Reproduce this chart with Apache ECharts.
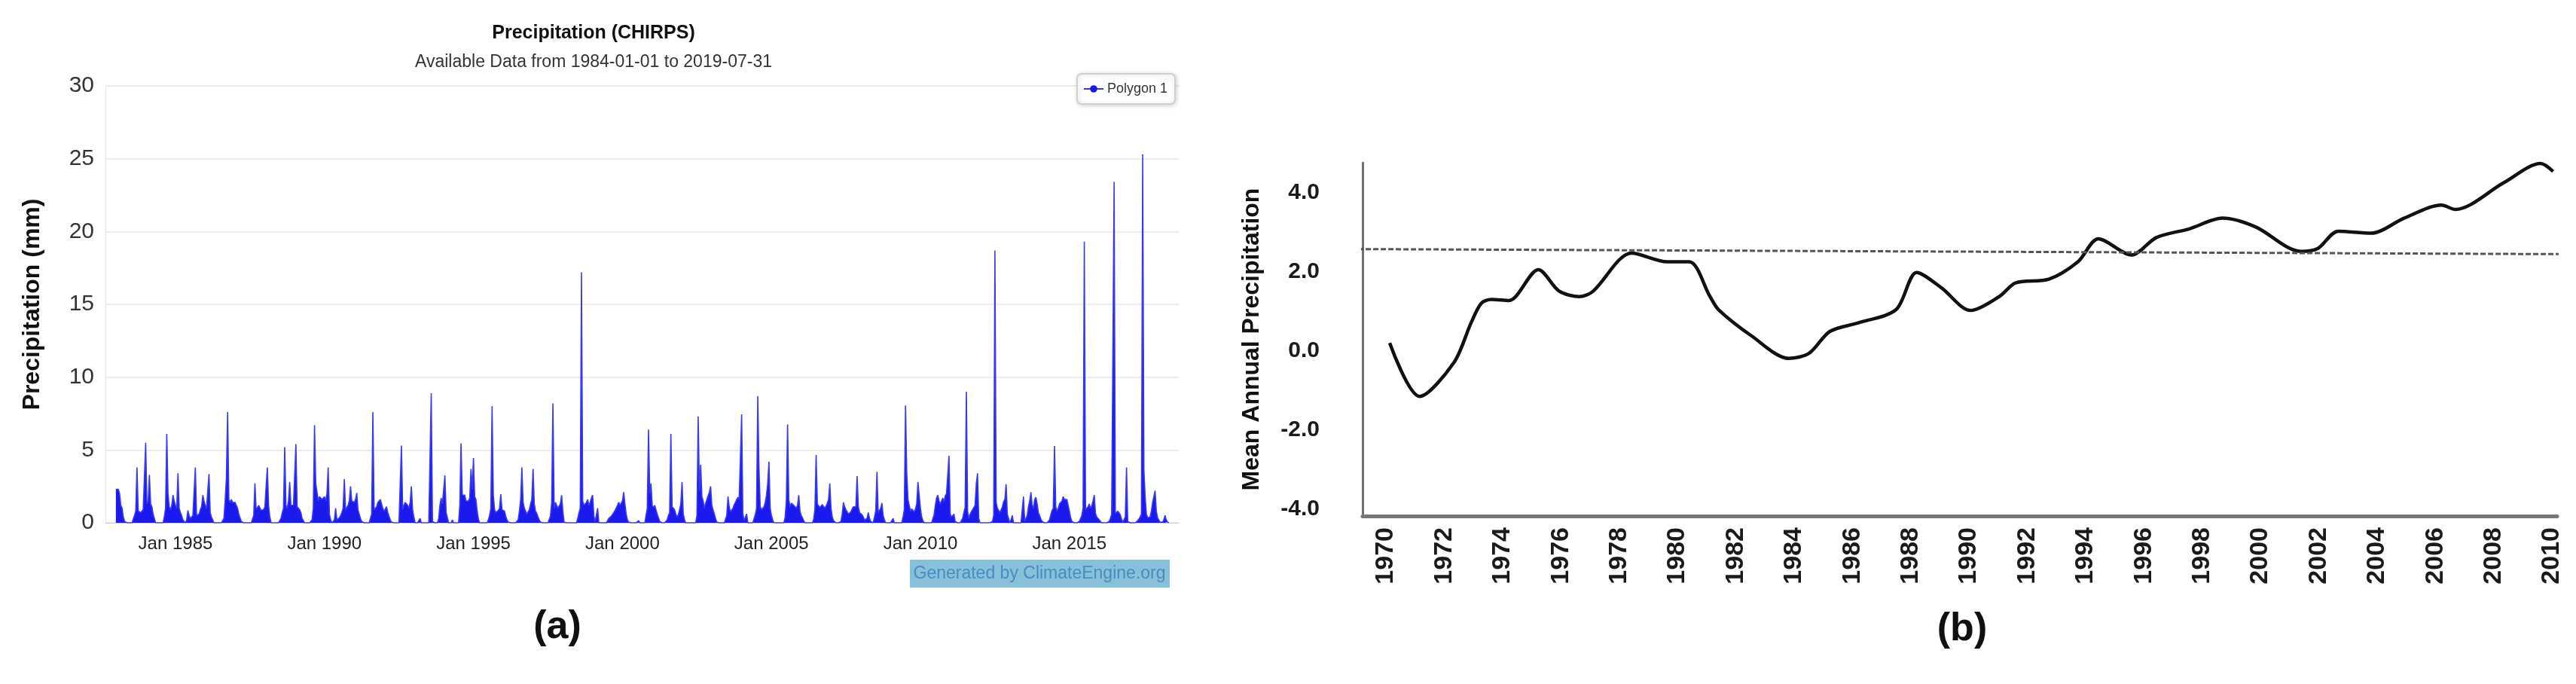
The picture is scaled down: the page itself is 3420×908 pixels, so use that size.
<!DOCTYPE html>
<html>
<head>
<meta charset="utf-8">
<title>Precipitation</title>
<style>
  html, body { margin: 0; padding: 0; background: #fff; }
  #main { width: 3420px; height: 908px; }
</style>
</head>
<body>
<div id="main"></div>
<script src="https://cdn.jsdelivr.net/npm/echarts@6/dist/echarts.min.js"></script>
<script>
// (a) CHIRPS precipitation (mm), two readings per month, one row per year
var firstYear = 1983;
var precip1980s = [
  [2.3,2.2,2.3,2.0,1.2,1.0,0.4,0.1,0,0,0,0,0,0,0,0.5,0.8,3.8,0.8,0.7,0.7,0.8,0.9,1.0],
  [5.5,1.3,1.5,3.3,1.3,1.1,0.6,0.3,0,0,0,0,0,0,0,0.4,1.0,6.1,2.0,1.1,0.9,1.2,1.9,1.5],
  [1.2,1.0,3.4,1.0,0.7,0.5,0.2,0.1,0,0.2,0.85,0.5,0.3,0.4,0.5,0.6,3.8,0.5,0.6,0.6,0.9,1.1,1.9,1.5],
  [1.2,1.0,1.0,3.35,0.7,0.4,0.2,0,0,0,0,0,0,0,0,0.3,1.5,3.1,7.6,1.6,1.4,1.6,1.4,1.5],
  [1.4,1.2,1.0,0.6,0.35,0.1,0,0,0,0,0,0,0,0,0,0.5,2.7,0.9,1.0,1.2,1.1,0.85,0.75,0.9],
  [1.1,2.5,3.8,1.2,0.4,0,0,0,0,0,0,0,0,0.3,0.7,1.0,5.2,1.2,1.0,1.5,2.8,1.2,1.1,1.2],
  [1.2,5.4,1.1,1.0,0.9,0.7,0.3,0.15,0,0,0,0,0,0,0.2,1.0,6.7,2.7,2.6,1.5,1.8,1.9,1.6,1.7]
];
var precip1990s = [
  [1.8,1.5,2.0,3.8,0.6,0.2,0,0,0.2,1.0,0.2,0.25,0.35,0.5,0.7,1.0,3.0,0.9,1.0,1.2,1.5,2.5,1.5,1.6],
  [1.4,1.6,2.05,0.9,0.6,0.3,0.1,0,0,0,0,0,0,0,0.6,7.6,0.9,1.0,1.1,1.4,1.5,1.6,1.3,1.0],
  [0.8,0.9,1.1,0.7,0.45,0.2,0.05,0,0,0,0,0,0,0.1,5.3,0.9,1.2,1.4,1.3,1.2,1.0,1.4,2.5,0.9],
  [0.4,0,0,0,0,0.3,0,0,0,0,0,0,0,0,8.9,0.1,0,0,0,0,0.3,1.2,1.7,1.3],
  [1.4,3.25,0.7,0.35,0,0,0,0.2,0,0,0,0,0,1.2,5.45,1.9,1.8,1.9,1.5,1.45,1.5,1.7,3.7,2.3],
  [4.45,1.8,1.6,0.8,0.25,0,0,0,0,0,0,0,0.2,0.5,1.0,8.0,1.9,0.9,0.7,0.7,0.85,1.0,1.96,0.9],
  [0.95,0.8,0.45,0.2,0.05,0,0,0,0,0,0,0,0.2,0.8,1.6,3.8,1.4,1.0,0.8,0.6,0.5,0.9,1.3,1.6],
  [3.7,1.3,0.8,0.65,0.4,0.2,0.05,0,0,0,0,0,0,0,0.45,1.4,8.2,1.0,1.4,1.3,1.0,1.1,1.3,1.9],
  [0.8,0.05,0,0,0,0,0,0,0,0,0,0,0.3,0.7,1.0,17.2,1.5,1.2,1.1,1.4,1.6,1.2,1.4,1.7],
  [1.9,0.45,0.1,0,1.0,0,0,0,0,0,0,0,0.15,0.3,0.4,0.45,0.5,0.7,0.85,0.95,1.2,1.4,1.2,1.3]
];
var precip2000s = [
  [1.5,2.1,1.3,0.6,0.2,0.05,0,0,0,0,0,0,0,0.15,0,0,0,0,0,0.5,1.0,6.4,2.0,2.7],
  [1.2,1.05,1.2,0.9,0.6,0.35,0.1,0,0,0,0,0,0.2,0.5,0.7,6.1,1.1,1.2,0.9,0.6,0.4,0.55,0.9,1.3],
  [2.8,0.6,0.2,0,0,0,0,0,0,0,0,0,0.5,7.3,2.2,4.0,1.8,1.5,1.0,1.35,1.6,1.85,2.1,2.5],
  [1.2,0.9,0.6,0.3,0.05,0,0,0,0,0,0,0,0.5,1.8,1.1,0.75,0.8,1.0,1.25,1.4,1.6,1.75,1.6,1.5],
  [7.45,0.6,0.15,0.1,0.6,0,0,0,0,0,0.3,0.55,1.0,8.7,3.6,1.1,0.9,1.0,1.1,1.4,1.9,2.7,4.2,1.0],
  [0.5,0.2,0,0,0,0,0,0,0,0,0,0.35,1.5,6.75,1.6,1.1,1.35,1.3,1.2,1.25,1.0,1.2,1.9,0.8],
  [0.5,0.35,0.15,0,0,0,0,0,0,0,0.25,0.9,4.65,1.3,1.2,1.05,1.1,1.25,1.3,1.0,1.15,1.35,1.6,2.7],
  [1.0,0.4,0.15,0.05,0,0,0,0,0.1,0.6,1.4,1.1,0.9,0.75,0.6,0.5,0.75,0.95,1.1,1.2,1.1,3.2,1.1,0.7],
  [0.8,0.55,0.4,0.2,0.15,0.3,0.7,0.3,0.1,0,0,0,0.8,3.5,0.7,0.7,1.0,1.35,0.5,0.2,0,0,0,0],
  [0,0,0.3,0,0,0,0,0,0,0,0.4,0.9,8.05,3.4,1.6,1.2,0.8,0.95,0.85,0.75,0.95,1.3,2.8,2.7]
];
var precip2010s = [
  [1.0,0.4,0.15,0,0,0,0,0,0,0,0,0.55,1.2,1.7,1.9,1.5,1.3,1.5,1.7,1.45,1.85,2.0,2.0,4.6],
  [0.6,0.4,0.4,0.6,0.1,0,0,0,0,0,0.3,0.7,1.05,9.0,0.8,0.3,0.6,0.75,0.9,1.0,1.2,2.7,3.4,0.3],
  [0,0,0,0,0,0,0,0,0,0,0.1,0.5,18.7,1.4,1.0,0.9,0.7,0.8,1.1,1.45,1.6,2.65,0.6,0.3],
  [0,0.2,0.5,0,0,0,0,0,0,0,0,1.8,0.1,0,0.5,1.1,1.5,2.1,1.2,1.0,1.6,1.75,1.3,0.7],
  [0.5,0.25,0.1,0,0,0,0,0,0.2,0.55,0.85,1.0,5.27,1.1,0.8,1.0,1.3,1.3,1.5,1.8,1.6,1.5,1.6,1.2],
  [0.8,0.35,0.1,0,0,0,0,0,0.1,0.3,0.5,1.0,19.3,0.9,0.85,1.1,1.3,1.0,1.15,1.5,1.9,0.65,0.4,0.3],
  [0.2,0.1,0,0,0,0,0,0,0.1,0.3,0.6,0.5,23.4,0.65,0.7,0.8,0.8,0.55,0.25,0.05,0,0.4,3.8,0.1],
  [0,0,0,0,0,0,0,0.15,0.25,0.4,0.6,25.3,3.6,1.8,0.6,0.35,0.25,0.4,0.8,1.4,1.8,2.2,0.8,0.35],
  [0.2,0.05,0,0.05,0.2,0.5,0.2,0.05,0]
];
var precipTicks = [1985, 1990, 1995, 2000, 2005, 2010, 2015];

// (b) mean annual precipitation
var trendYears = [1970.13, 1971.16, 1972.33, 1972.93, 1973.27, 1973.62, 1974.22, 1975.23, 1975.94, 1976.64,
  1977.10, 1978.43, 1979.65, 1980.41, 1981.12, 1981.41, 1982.54, 1983.82, 1984.52, 1985.23,
  1986.22, 1987.50, 1988.21, 1989.06, 1990.05, 1991.04, 1991.61, 1992.74, 1993.74, 1994.44,
  1995.58, 1996.43, 1997.56, 1998.70, 1999.83, 2001.39, 2001.96, 2002.67, 2003.80, 2004.93,
  2006.21, 2006.69, 2008.34, 2009.61, 2010.04];
var trendValues = [0.20, -1.15, -0.30, 0.72, 1.20, 1.30, 1.27, 2.05, 1.51, 1.37,
  1.50, 2.47, 2.25, 2.25, 1.37, 1.04, 0.38, -0.19, -0.06, 0.49,
  0.71, 1.04, 1.98, 1.59, 1.02, 1.37, 1.72, 1.81, 2.25, 2.83,
  2.42, 2.86, 3.08, 3.35, 3.13, 2.51, 2.58, 3.02, 2.97, 3.35,
  3.68, 3.57, 4.24, 4.73, 4.53];
var meanYears = [1968.79, 2010.83];
var meanValues = [2.57, 2.44];
var trendTicks = [1970, 1972, 1974, 1976, 1978, 1980, 1982, 1984, 1986, 1988, 1990,
  1992, 1994, 1996, 1998, 2000, 2002, 2004, 2006, 2008, 2010];
var trendValueTicks = [-4, -2, 0, 2, 4];

var FONT = '"Liberation Sans", Arial, sans-serif';

var precipRows = precip1980s.concat(precip1990s, precip2000s, precip2010s);
var precipData = [];
precipRows.forEach(function (row, r) {
  row.forEach(function (v, i) {
    precipData.push([firstYear + r + i / 24, v]);
  });
});
var trendData = trendYears.map(function (y, i) { return [y, trendValues[i]]; });
var meanData = meanYears.map(function (y, i) { return [y, meanValues[i]]; });

var myChart = echarts.init(document.getElementById('main'));
var option = {
  animation: false,
  textStyle: { fontFamily: FONT },
  title: [{
    text: 'Precipitation (CHIRPS)',
    subtext: 'Available Data from 1984-01-01 to 2019-07-31',
    left: 783, top: 27, textAlign: 'center', itemGap: 14,
    textStyle: { fontSize: 25, fontWeight: 'bold', color: '#111' },
    subtextStyle: { fontSize: 23, color: '#333' }
  }, {
    text: '(a)', left: 735, top: 802, textAlign: 'center',
    textStyle: { fontSize: 52, fontWeight: 'bold', color: '#111' }
  }, {
    text: '(b)', left: 2600, top: 805, textAlign: 'center',
    textStyle: { fontSize: 52, fontWeight: 'bold', color: '#111' }
  }],
  legend: {
    data: ['Polygon 1'], left: 1430, top: 98,
    itemWidth: 26, itemHeight: 12, padding: [11, 10, 11, 8],
    borderColor: '#d0d0d0', borderWidth: 2, borderRadius: 6,
    backgroundColor: '#fff', shadowBlur: 6, shadowColor: 'rgba(0,0,0,0.18)',
    shadowOffsetX: 1, shadowOffsetY: 1, selectedMode: false,
    textStyle: { fontSize: 18, color: '#333' }
  },
  grid: [
    { left: 140, top: 114, width: 1425, height: 580 },
    { left: 1809, top: 216, width: 1586, height: 469 }
  ],
  xAxis: [{
    gridIndex: 0, type: 'value', min: 1982.65, max: 2018.67,
    axisLine: { onZero: false, lineStyle: { color: '#c0d0e0' } },
    axisTick: { show: false }, splitLine: { show: false },
    axisLabel: {
      customValues: precipTicks, fontSize: 24, color: '#222', margin: 16,
      formatter: function (v) { return 'Jan ' + v; }
    }
  }, {
    gridIndex: 1, type: 'value', min: 1969.2, max: 2010.18,
    axisLine: { onZero: false, lineStyle: { color: '#777', width: 5 } },
    axisTick: { show: false }, splitLine: { show: false },
    axisLabel: {
      customValues: trendTicks, rotate: 90, fontSize: 34, fontWeight: 'bold',
      color: '#1a1a1a', margin: 15,
      formatter: function (v) { return String(v); }
    }
  }],
  yAxis: [{
    gridIndex: 0, type: 'value', min: 0, max: 30, interval: 5,
    name: 'Precipitation (mm)', nameLocation: 'middle', nameGap: 81,
    nameTextStyle: { fontSize: 32, fontWeight: 'bold', color: '#111' },
    axisLine: { show: true, onZero: false, lineStyle: { color: '#e4e6f0' } },
    axisTick: { show: false },
    splitLine: { lineStyle: { color: '#ececec', width: 2 } },
    axisLabel: { fontSize: 30, color: '#333', margin: 15 }
  }, {
    gridIndex: 1, type: 'value', min: -4.17, max: 4.75,
    name: 'Mean Annual Precipitation', nameLocation: 'middle', nameGap: 131,
    nameTextStyle: { fontSize: 32, fontWeight: 'bold', color: '#111' },
    axisLine: { show: true, onZero: false, lineStyle: { color: '#707070', width: 3 } },
    axisTick: { show: false }, splitLine: { show: false },
    axisLabel: {
      customValues: trendValueTicks, fontSize: 30, fontWeight: 'bold',
      color: '#1a1a1a', margin: 57,
      formatter: function (v) { return v.toFixed(1); }
    }
  }],
  graphic: [{
    type: 'rect', left: 1208, top: 743,
    shape: { width: 345, height: 37 },
    style: { fill: '#86c0da' }
  }, {
    type: 'text', x: 1380, y: 762,
    style: {
      text: 'Generated by ClimateEngine.org', align: 'center', verticalAlign: 'middle',
      fontSize: 23, fontFamily: FONT, fill: '#4a8cbd'
    }
  }],
  series: [{
    name: 'Polygon 1', type: 'line', xAxisIndex: 0, yAxisIndex: 0,
    data: precipData, symbol: 'circle', symbolSize: 7, showSymbol: false,
    itemStyle: { color: '#1818ee' },
    lineStyle: { color: '#3a3af2', width: 1.6 },
    areaStyle: { color: '#1a1aee', opacity: 1 }
  }, {
    name: 'Mean annual', type: 'line', xAxisIndex: 1, yAxisIndex: 1,
    data: trendData, smooth: 0.3, symbol: 'none',
    lineStyle: { color: '#111', width: 4.5 }
  }, {
    name: 'Average', type: 'line', xAxisIndex: 1, yAxisIndex: 1,
    data: meanData, symbol: 'none', clip: false,
    lineStyle: { color: '#555', width: 3, type: [7, 3] }
  }]
};
myChart.setOption(option);
</script>
</body>
</html>
